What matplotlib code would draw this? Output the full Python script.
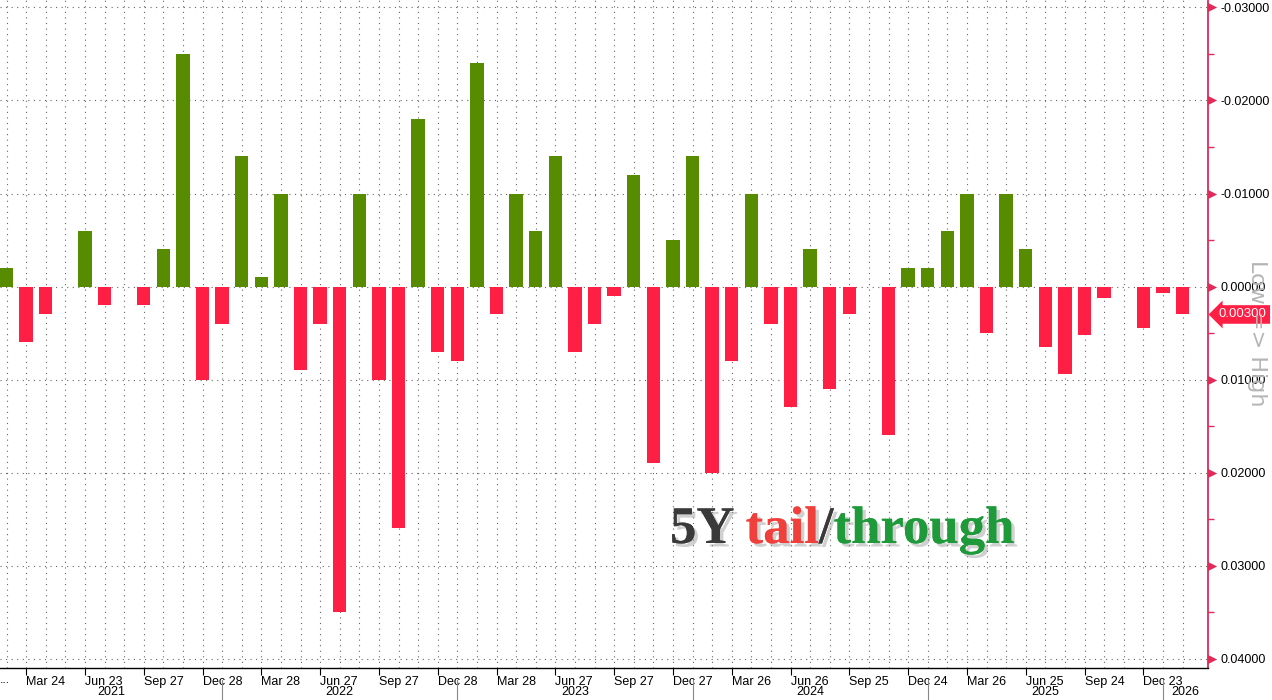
import matplotlib
matplotlib.use("Agg")
import matplotlib.pyplot as plt
import matplotlib.patheffects as pe
import numpy as np

# ---------------- data (5Y auction tail(+)/through(-), Feb 2021 .. Feb 2026) ----------------
tail_values = [
    -0.002, 0.006, 0.003, 0.0001, -0.006, 0.002, 0.0001, 0.002, -0.004, -0.025,
    0.010, 0.004, -0.014, -0.001, -0.010, 0.009, 0.004, 0.035, -0.010, 0.010,
    0.026, -0.018, 0.007, 0.008, -0.024, 0.003, -0.010, -0.006, -0.014, 0.007,
    0.004, 0.001, -0.012, 0.019, -0.005, -0.014, 0.020, 0.008, -0.010, 0.004,
    0.013, -0.004, 0.011, 0.003, 0.0001, 0.016, -0.002, -0.002, -0.006, -0.010,
    0.005, -0.010, -0.004, 0.0065, 0.0094, 0.0052, 0.0012, 0.0001, 0.0045, 0.0007,
    0.003,
]
tick_bars = [2, 5, 8, 11, 14, 17, 20, 23, 26, 29, 32, 35, 38, 41, 44, 47, 50, 53, 56, 59]
tick_labels = [
    "Mar 24", "Jun 23", "Sep 27", "Dec 28",
    "Mar 28", "Jun 27", "Sep 27", "Dec 28",
    "Mar 28", "Jun 27", "Sep 27", "Dec 27",
    "Mar 26", "Jun 26", "Sep 25", "Dec 24",
    "Mar 26", "Jun 25", "Sep 24", "Dec 23",
]
year_bars = [12, 24, 36, 48, 60]          # first auction of each new year
year_labels = ["2021", "2022", "2023", "2024", "2025", "2026"]
y_major = [-0.03, -0.02, -0.01, 0.0, 0.01, 0.02, 0.03, 0.04]
last_value = 0.003

GREEN = "#578b00"
RED = "#ff1f44"
AXRED = "#e2295a"
FONT = ["Liberation Sans", "DejaVu Sans"]

x = np.arange(1, len(tail_values) + 1)
vals = np.array(tail_values)
colors = [GREEN if v < 0 else RED for v in vals]

fig = plt.figure(figsize=(12.72, 7.0), dpi=100)
ax = fig.add_axes([0.0, 32 / 700, 1208 / 1272, 668 / 700])

ax.bar(x, vals, width=0.69, color=colors, zorder=3)

xlo, xhi = 0.668, 62.3
ax.set_xlim(xlo, xhi)
ax.set_ylim(0.041, -0.0308)   # inverted: through (negative) goes up

# grid
for xi in x:
    ax.axvline(xi, color="#666666", lw=0.8, ls=(0, (1, 4)), zorder=1)
for yv in y_major:
    ax.axhline(yv, color="#666666", lw=0.8, ls=(0, (1, 4)), zorder=1)

# spines
for s in ["left", "top"]:
    ax.spines[s].set_visible(False)
ax.spines["right"].set_color(AXRED)
ax.spines["right"].set_linewidth(1.3)
ax.spines["bottom"].set_color("black")
ax.spines["bottom"].set_linewidth(1.0)

# right y axis
ax.yaxis.tick_right()
ax.set_yticks(y_major)
ax.set_yticks(np.arange(-0.025, 0.041, 0.01), minor=True)
ax.set_yticklabels([f"{v:.5f}" for v in y_major], fontsize=9, family=FONT, color="black")
ax.tick_params(axis="y", which="major", length=0, pad=9)
ax.tick_params(axis="y", which="minor", length=4, width=1, color=AXRED, direction="out")
ytr = ax.get_yaxis_transform()
ax.scatter([1.0035] * len(y_major), y_major, marker=">", s=45, color=AXRED,
           transform=ytr, clip_on=False, zorder=5, linewidths=0)

# last value badge
ax.text(1.009, last_value, f"{last_value:.5f}", transform=ytr, fontsize=9.5, family=FONT,
        color="white", va="center", ha="left",
        bbox=dict(boxstyle="larrow,pad=0.25", fc=RED, ec="none"))

# x axis
ax.set_xticks(tick_bars)
ax.set_xticklabels(tick_labels, fontsize=9, family=FONT, ha="left")
ax.tick_params(axis="x", length=5, width=0.8, pad=1)
xtr = ax.get_xaxis_transform()
for yb in year_bars:
    ax.plot([yb, yb], [-0.018, -0.05], color="#888888", lw=0.8,
            transform=xtr, clip_on=False)
bounds = [xlo] + year_bars + [xhi]
for lab, a, b in zip(year_labels, bounds[:-1], bounds[1:]):
    ax.text((a + b) / 2, -0.036, lab, transform=xtr, fontsize=9, family=FONT,
            ha="center", va="center")
ax.text(xlo, -0.018, "...", transform=xtr, fontsize=9, family=FONT, ha="left", va="center")

# low/high hint
fig.text(1257 / 1272, 1 - 333 / 700, "Low => High", rotation=-90, fontsize=16,
         color="#b5b5b5", ha="center", va="center")

# title with coloured pieces
shadow = [pe.withSimplePatchShadow(offset=(2.5, -2.5), shadow_rgbFace="#8a8a8a", alpha=0.4),
          pe.Normal()]
pieces = [("5Y ", "#3a3a3a"), ("tail", "#f0403c"), ("/", "#3a3a3a"), ("through", "#1e9a3a")]
fig.canvas.draw()
renderer = fig.canvas.get_renderer()
xpos = 670
for txt, col in pieces:
    t = fig.text(xpos / 1272, 1 - 543 / 700, txt, fontsize=38, fontweight="bold",
                 family="Liberation Serif", color=col, ha="left", va="baseline",
                 path_effects=shadow)
    bb = t.get_window_extent(renderer)
    xpos += bb.width

fig.savefig("out.png", dpi=100)
